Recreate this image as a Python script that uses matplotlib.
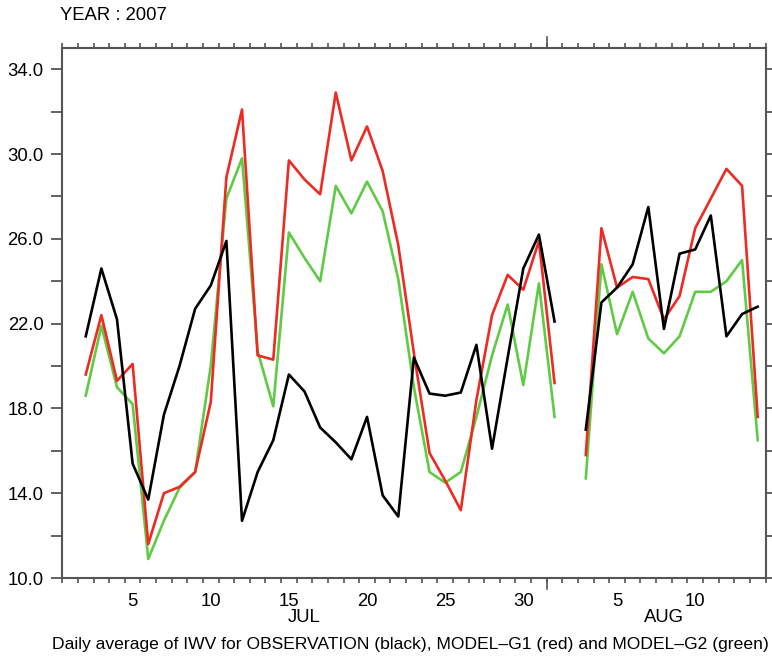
import numpy as np
import pandas as pd
import matplotlib
matplotlib.use('Agg')
import matplotlib.pyplot as plt
import matplotlib.transforms as mtransforms

plt.rcParams['font.family'] = ['Liberation Sans', 'DejaVu Sans']

# daily values, Jul 2 .. Aug 14 2007 (Aug 2 missing)
dates = pd.date_range('2007-07-02', '2007-08-14')
obs = [21.4, 24.6, 22.2, 15.4, 13.7, 17.7, 20.0, 22.7, 23.8, 25.9,
       12.7, 15.0, 16.5, 19.6, 18.8, 17.1, 16.4, 15.6, 17.6, 13.9,
       12.9, 20.4, 18.7, 18.6, 18.75, 21.0, 16.1, 20.4, 24.6, 26.2,
       22.1, np.nan, 17.0, 23.0, 23.7, 24.8, 27.5, 21.75, 25.3, 25.5,
       27.1, 21.4, 22.45, 22.8]
model_g1 = [19.6, 22.4, 19.3, 20.1, 11.6, 14.0, 14.3, 15.0, 18.3, 28.9,
            32.1, 20.5, 20.3, 29.7, 28.8, 28.1, 32.9, 29.7, 31.3, 29.2,
            25.7, 20.6, 15.9, 14.6, 13.2, 18.4, 22.4, 24.3, 23.6, 25.9,
            19.2, np.nan, 15.8, 26.5, 23.7, 24.2, 24.1, 22.2, 23.3, 26.5,
            27.9, 29.3, 28.5, 17.6]
model_g2 = [18.6, 21.9, 19.0, 18.2, 10.9, 12.7, 14.25, 15.0, 20.0, 27.9,
            29.8, 20.7, 18.1, 26.3, 25.1, 24.0, 28.5, 27.2, 28.7, 27.3,
            24.1, 19.0, 15.0, 14.5, 15.0, 17.6, 20.5, 22.9, 19.1, 23.9,
            17.6, np.nan, 14.7, 24.8, 21.5, 23.5, 21.3, 20.6, 21.4, 23.5,
            23.5, 24.0, 25.0, 16.5]

tick_days = ['2007-07-05', '2007-07-10', '2007-07-15', '2007-07-20',
             '2007-07-25', '2007-07-30', '2007-08-05', '2007-08-10']
tick_labels = ['5', '10', '15', '20', '25', '30', '5', '10']
months = ['JUL', 'AUG']
month_pos = ['2007-07-16', '2007-08-08']

start = pd.Timestamp('2007-07-01')


def day_num(d):
    return (pd.Timestamp(d) - start).days + 1


x = np.array([day_num(d) for d in dates])

fig = plt.figure(figsize=(7.72, 6.57), dpi=100)
ax = fig.add_axes([0.0807, 0.1202, 0.9109, 0.8067])

ax.plot(x, model_g2, color='#5fcb45', lw=1.9)
ax.plot(x, model_g1, color='#ee2a22', lw=1.9)
ax.plot(x, obs, color='black', lw=1.9)

ax.set_xlim(0.5, 45.5)
ax.set_ylim(10, 35)

edge = '#555555'
for s in ax.spines.values():
    s.set_color(edge)
    s.set_linewidth(1.5)

yt = np.arange(10, 35, 2)
ax.set_yticks(yt, ['%.1f' % v if (v - 10) % 4 == 0 else '' for v in yt])
ax.tick_params(axis='y', which='major', direction='out', length=8,
               width=1.3, color=edge, labelsize=13.3, pad=5.5,
               right=True, left=True)

ax.set_xticks([day_num(d) for d in tick_days], tick_labels)
ax.set_xticks(np.arange(0.5, 45.6, 1), minor=True)
ax.tick_params(axis='x', which='major', length=0, labelsize=13.3, pad=11)
ax.tick_params(axis='x', which='minor', direction='out', length=3.6,
               width=1.2, color=edge, top=True, bottom=True)

# month boundary tick (longer)
trans = mtransforms.blended_transform_factory(ax.transData, ax.transAxes)
mb = day_num('2007-08-01') - 0.5
ax.plot([mb, mb], [0, -0.021], transform=trans, color=edge, lw=1.2,
        clip_on=False)
ax.plot([mb, mb], [1, 1.021], transform=trans, color=edge, lw=1.2,
        clip_on=False)

for m, p in zip(months, month_pos):
    ax.text(day_num(p), -0.0736, m, transform=trans, ha='center',
            va='center', fontsize=13.3)

fig.text(60 / 772, 1 - 16 / 657, 'YEAR : 2007', ha='left', va='center',
         fontsize=13.3)
fig.text(410 / 772, 1 - 644 / 657,
         'Daily average of IWV for OBSERVATION (black), MODEL\u2013G1 (red) '
         'and MODEL\u2013G2 (green)', ha='center', va='center', fontsize=12.6)

fig.savefig('out.png', dpi=100)
